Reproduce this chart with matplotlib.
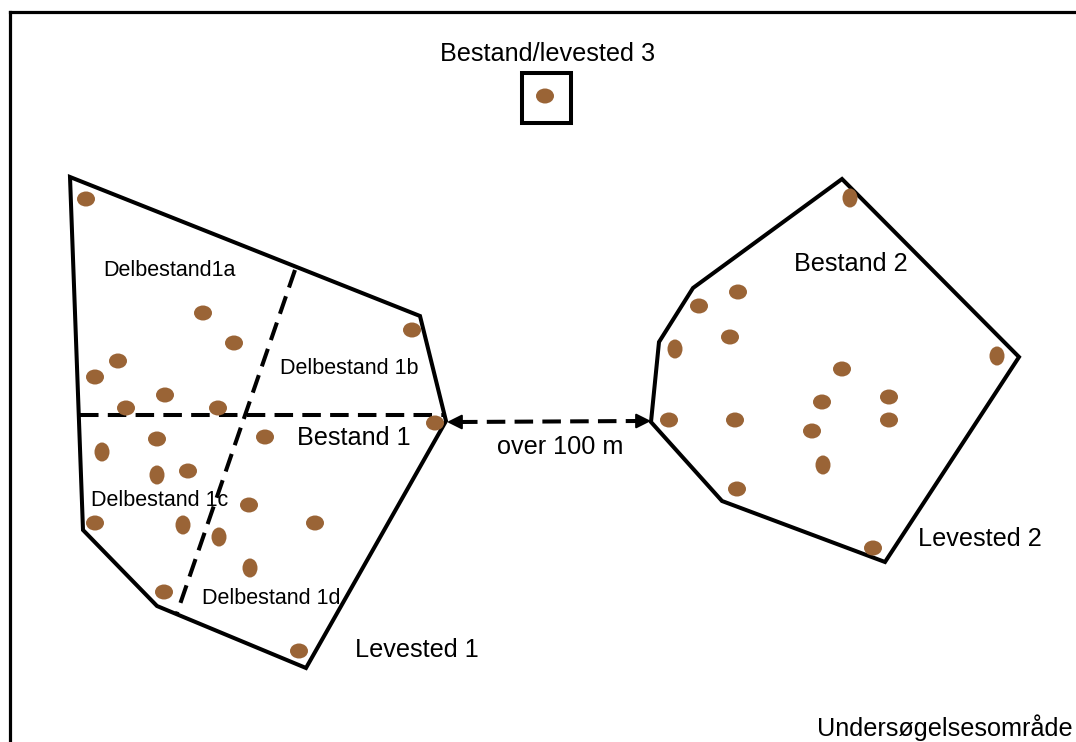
import matplotlib
matplotlib.use("Agg")
import matplotlib.pyplot as plt
from matplotlib.patches import Ellipse, Polygon, Rectangle

# ---- data (pixel coordinates) ----
levested1_x = [70, 420, 446, 306, 157, 83]
levested1_y = [177, 316, 421, 668, 606, 530]
levested2_x = [842, 1019, 885, 722, 651, 659, 693]
levested2_y = [179, 357, 562, 501, 422, 342, 288]
split_h_x = [80, 445]
split_h_y = [415, 415]
split_d_x = [295, 177]
split_d_y = [270, 613]
square_xy = (522, 73)
square_wh = (49, 50)

dots1_x = [86, 203, 234, 118, 95, 165, 126, 218, 412, 435, 157, 265, 102, 157,
           188, 249, 95, 183, 219, 315, 250, 164, 299]
dots1_y = [199, 313, 343, 361, 377, 395, 408, 408, 330, 423, 439, 437, 452, 475,
           471, 505, 523, 525, 537, 523, 568, 592, 651]
dots1_tall = [0, 0, 0, 0, 0, 0, 0, 0, 0, 0, 0, 0, 1, 1,
              0, 0, 0, 1, 1, 0, 1, 0, 0]
dots2_x = [850, 738, 699, 730, 675, 842, 997, 822, 889, 669, 735, 812, 889, 823, 737, 873]
dots2_y = [198, 292, 306, 337, 349, 369, 356, 402, 397, 420, 420, 431, 420, 465, 489, 548]
dots2_tall = [1, 0, 0, 0, 1, 0, 1, 0, 0, 0, 0, 0, 0, 1, 0, 0]
dots3_x = [545]
dots3_y = [96]
dots3_tall = [0]

arrow_x = [447, 651]
arrow_y = [422, 421]

labels = ["Bestand/levested 3", "Delbestand1a", "Delbestand 1b", "Bestand 1",
          "Delbestand 1c", "Delbestand 1d", "Levested 1", "over 100 m",
          "Bestand 2", "Levested 2", "Undersøgelsesområde"]
label_x = [440, 103, 280, 297, 91, 202, 355, 497, 794, 918, 817]
label_y = [54, 270, 368, 438, 501, 598, 650, 447, 264, 539, 728]
label_big = [1, 0, 0, 1, 0, 0, 1, 1, 1, 1, 1]

# ---- drawing ----
plt.rcParams['font.family'] = ['Liberation Sans', 'DejaVu Sans']
fig = plt.figure(figsize=(10.76, 7.42), dpi=100)
ax = fig.add_axes([0, 0, 1, 1])
ax.set_xlim(0, 1076)
ax.set_ylim(742, 0)
ax.axis('off')

LW = 2.9
DOT = '#9A6436'

# frame (top and left edges)
ax.plot([10, 1076], [12, 12], color='black', lw=2.3, solid_capstyle='projecting')
ax.plot([10, 10], [12, 742], color='black', lw=2.3, solid_capstyle='projecting')

ax.add_patch(Polygon(list(zip(levested1_x, levested1_y)), closed=True, fill=False,
                     ec='black', lw=LW, joinstyle='miter'))
ax.add_patch(Polygon(list(zip(levested2_x, levested2_y)), closed=True, fill=False,
                     ec='black', lw=LW, joinstyle='miter'))
ax.add_patch(Rectangle(square_xy, square_wh[0], square_wh[1], fill=False,
                       ec='black', lw=LW, joinstyle='miter'))

ax.plot(split_h_x, split_h_y, color='black', lw=LW, dashes=(4.6, 2.3))
ax.plot(split_d_x, split_d_y, color='black', lw=LW, dashes=(4.6, 2.3))

# double-headed dashed arrow
ax.plot([arrow_x[0] + 12, arrow_x[1] - 12], arrow_y, color='black', lw=LW,
        dashes=(4.6, 2.3))
for tip, tail in [((arrow_x[0], arrow_y[0]), (arrow_x[0] + 16, arrow_y[0])),
                  ((arrow_x[1], arrow_y[1]), (arrow_x[1] - 16, arrow_y[1]))]:
    ax.annotate('', xy=tip, xytext=tail,
                arrowprops=dict(arrowstyle='-|>,head_length=0.9,head_width=0.45',
                                color='black', lw=1.5, shrinkA=0, shrinkB=0))

for xs, ys, ts in [(dots1_x, dots1_y, dots1_tall), (dots2_x, dots2_y, dots2_tall),
                   (dots3_x, dots3_y, dots3_tall)]:
    for x, y, t in zip(xs, ys, ts):
        w, h = (15, 19) if t else (18, 15)
        ax.add_patch(Ellipse((x, y), w, h, color=DOT, lw=0, zorder=3))

for s, x, y, b in zip(labels, label_x, label_y, label_big):
    ax.text(x, y, s, fontsize=18.2 if b else 15.5, ha='left', va='center',
            color='black', zorder=5)

fig.savefig('out.png', dpi=100)
